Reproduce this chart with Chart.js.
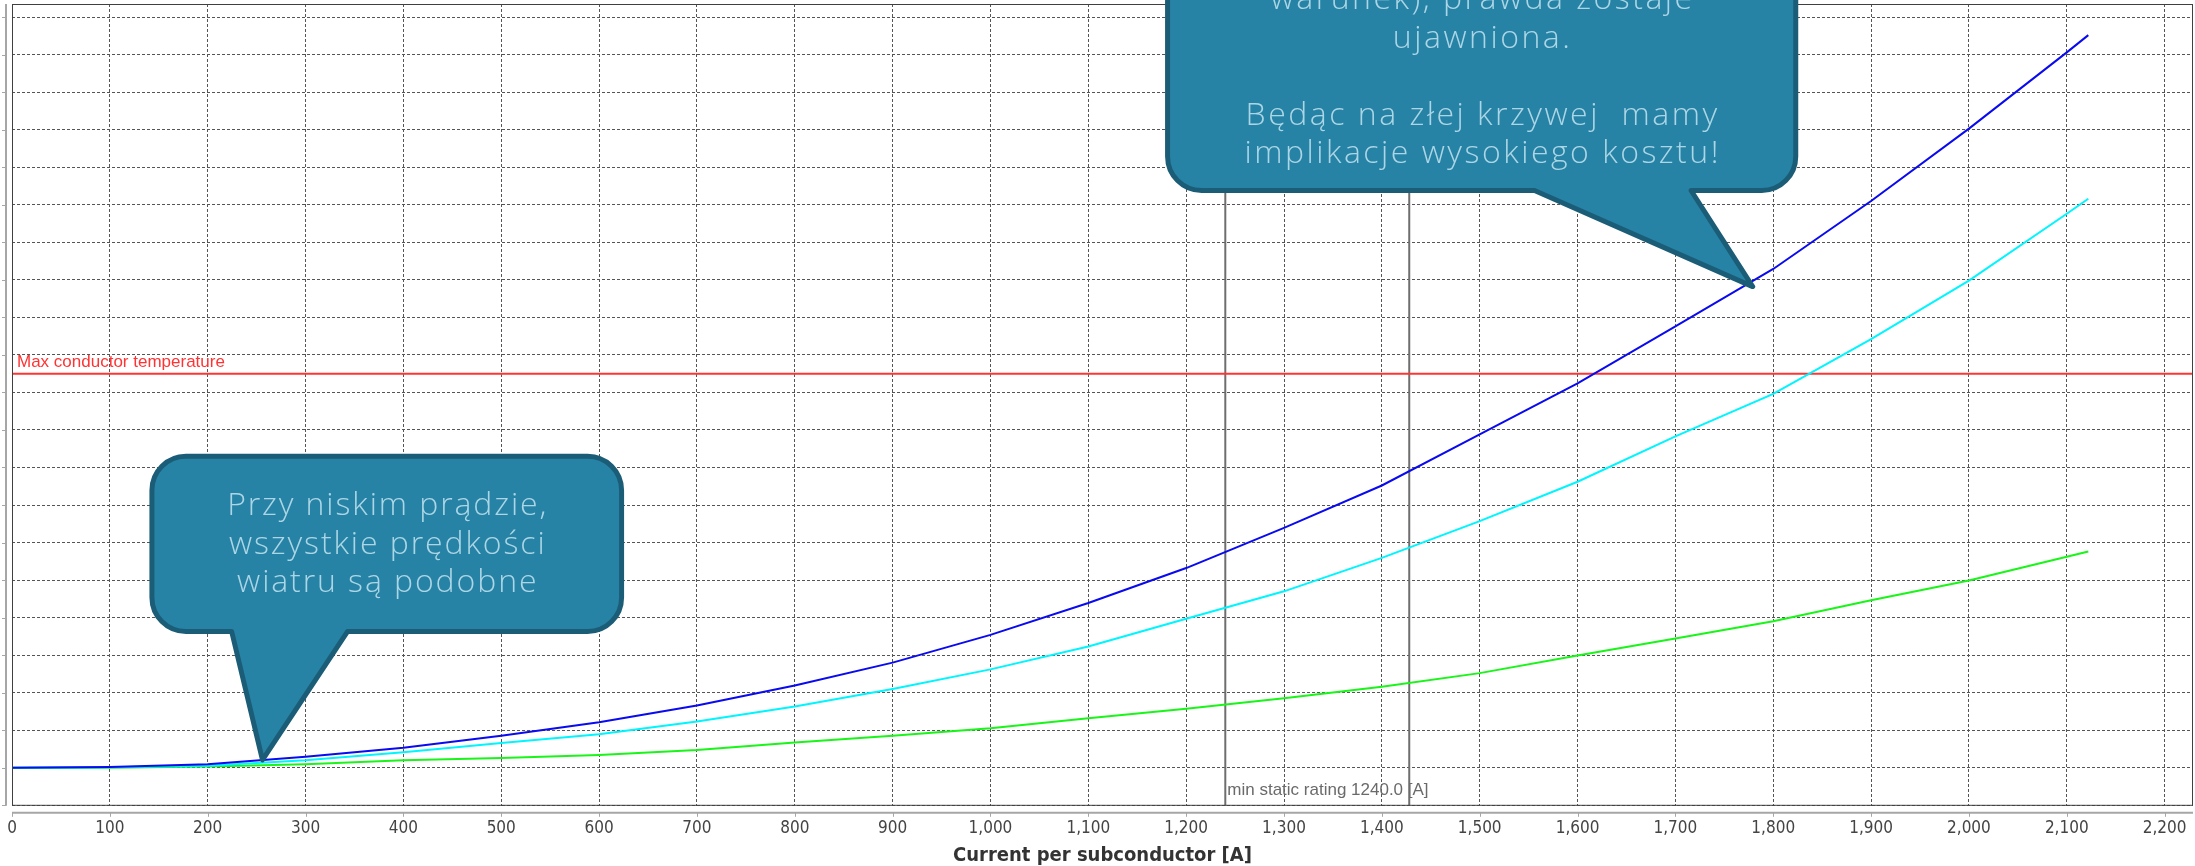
<!DOCTYPE html>
<html>
<head>
<meta charset="utf-8">
<title>Current per subconductor</title>
<script src="https://cdn.jsdelivr.net/npm/chart.js@4.4.1/dist/chart.umd.min.js"></script>
<style>
  html, body { margin: 0; padding: 0; background: #ffffff; }
  #wrap { width: 2195px; height: 866px; }
</style>
</head>
<body>
<div id="wrap"><canvas id="myChart" width="2195" height="866"></canvas></div>
<script>
// prąd na subprzewodnik [A]
const currents = [0, 100, 200, 300, 400, 500, 600, 700, 800, 900, 1000, 1100,
                  1200, 1300, 1400, 1500, 1600, 1700, 1800, 1900, 2000, 2100, 2122];

// przyrost temperatury przewodu dla trzech prędkości wiatru (jednostki siatki)
const tempLowWind  = [0, 0.2, 0.9, 2.9, 5.3, 8.5, 12.1, 16.6, 21.9, 28.0, 35.4, 43.9,
                      53.2, 63.9, 75.2, 88.8, 102.4, 117.6, 132.9, 151.0, 170.3, 190.6, 195.2];
const tempMidWind  = [0, 0.1, 0.5, 2.0, 4.1, 6.6, 8.9, 12.3, 16.3, 21.0, 26.2, 32.3,
                      39.7, 47.0, 55.9, 65.7, 76.2, 88.3, 99.6, 114.2, 129.8, 147.6, 151.6];
const tempHighWind = [0, 0, 0.3, 0.9, 2.0, 2.6, 3.4, 4.7, 6.7, 8.5, 10.5, 13.2,
                      15.7, 18.5, 21.6, 25.2, 29.9, 34.4, 39.0, 44.6, 49.9, 56.2, 57.6];

const maxConductorTemp = 105;
const staticRatings = [1240, 1428];

const xRange = [0, 2229];
const yRange = [-10.15, 203.5];

const toPoints = (vals) => vals.map((v, i) => ({ x: currents[i], y: v }));

// dymki z komentarzem (kotwiczone w jednostkach osi)
const callouts = [
  {
    lines: ['Przy niskim prądzie,', 'wszystkie prędkości', 'wiatru są podobne'],
    box: { x0: 143, x1: 623, yTop: 83.0, yBottom: 36.3 },
    base: [224.5, 343], tip: [256, 2.1], textMid: 59.5, spacing: '1.9px'
  },
  {
    lines: ['warunek), prawda zostaje', 'ujawniona.', '', 'Będąc na złej krzywej  mamy', 'implikacje wysokiego kosztu!'],
    box: { x0: 1181, x1: 1823, yTop: 230, yBottom: 153.8 },
    base: [1556, 1716], tip: [1779, 128.2], textMid: 184.0, spacing: '2.5px'
  }
];

function drawCallout(ctx, xs, ys, c) {
  const l = xs.getPixelForValue(c.box.x0), r = xs.getPixelForValue(c.box.x1);
  const t = ys.getPixelForValue(c.box.yTop), b = ys.getPixelForValue(c.box.yBottom);
  const bl = xs.getPixelForValue(c.base[0]), br = xs.getPixelForValue(c.base[1]);
  const tx = xs.getPixelForValue(c.tip[0]), ty = ys.getPixelForValue(c.tip[1]);
  const rad = 34;

  ctx.save();
  ctx.beginPath();
  ctx.moveTo(l + rad, t);
  ctx.lineTo(r - rad, t);
  ctx.arcTo(r, t, r, t + rad, rad);
  ctx.lineTo(r, b - rad);
  ctx.arcTo(r, b, r - rad, b, rad);
  ctx.lineTo(br, b);
  ctx.lineTo(tx, ty);
  ctx.lineTo(bl, b);
  ctx.lineTo(l + rad, b);
  ctx.arcTo(l, b, l, b - rad, rad);
  ctx.lineTo(l, t + rad);
  ctx.arcTo(l, t, l + rad, t, rad);
  ctx.closePath();
  ctx.fillStyle = '#2783a6';
  ctx.fill();
  ctx.lineWidth = 5;
  ctx.lineJoin = 'round';
  ctx.strokeStyle = '#1b5d77';
  ctx.stroke();

  ctx.fillStyle = '#acd6e5';
  ctx.font = '300 32px "Open Sans", Lato, sans-serif';
  ctx.letterSpacing = c.spacing;
  ctx.textAlign = 'center';
  ctx.textBaseline = 'middle';
  const lh = 38.5;
  const mid = ys.getPixelForValue(c.textMid);
  const cx = (l + r) / 2 + 1;
  c.lines.forEach((txt, i) => {
    ctx.fillText(txt, cx, mid + (i - (c.lines.length - 1) / 2) * lh);
  });
  ctx.restore();
}

const decorPlugin = {
  id: 'decor',
  afterDatasetsDraw(chart) {
    const { ctx, chartArea: a, scales } = chart;
    const xs = scales.x, ys = scales.y;
    ctx.save();

    // ramka obszaru wykresu
    ctx.strokeStyle = '#404040';
    ctx.lineWidth = 1;
    ctx.strokeRect(a.left + 0.5, a.top + 0.5, a.right - a.left - 1, a.bottom - a.top - 1);

    // odsunięte osie z kreskami
    ctx.strokeStyle = '#a6a6a6';
    ctx.lineWidth = 2;
    ctx.beginPath();
    ctx.moveTo(a.left - 6, a.top);
    ctx.lineTo(a.left - 6, a.bottom);
    ctx.moveTo(a.left, a.bottom + 7);
    ctx.lineTo(a.right, a.bottom + 7);
    ctx.stroke();
    ctx.lineWidth = 1;
    ctx.beginPath();
    ys.ticks.forEach(tk => {
      const py = Math.round(ys.getPixelForValue(tk.value)) + 0.5;
      ctx.moveTo(a.left - 10, py);
      ctx.lineTo(a.left - 6, py);
    });
    xs.ticks.forEach(tk => {
      const px = Math.round(xs.getPixelForValue(tk.value)) + 0.5;
      ctx.moveTo(px, a.bottom + 7);
      ctx.lineTo(px, a.bottom + 11);
    });
    ctx.stroke();

    // opisy linii
    ctx.font = '17px "Liberation Sans", Arial, sans-serif';
    ctx.textAlign = 'left';
    ctx.textBaseline = 'alphabetic';
    ctx.fillStyle = '#ff3333';
    ctx.fillText('Max conductor temperature', a.left + 5, ys.getPixelForValue(maxConductorTemp) - 7);
    ctx.fillStyle = '#6a6a6a';
    ctx.fillText('min static rating ' + staticRatings[0].toFixed(1) + ' [A]',
                 xs.getPixelForValue(staticRatings[0]) + 2, a.bottom - 11);
    ctx.restore();
  },
  afterDraw(chart) {
    const { ctx, scales } = chart;
    callouts.forEach(c => drawCallout(ctx, scales.x, scales.y, c));
  }
};

const ctx = document.getElementById('myChart').getContext('2d');

const lineStyle = { borderWidth: 2, pointRadius: 0, tension: 0, fill: false };

const myChart = new Chart(ctx, {
  type: 'line',
  data: {
    datasets: [
      { label: 'Wiatr słaby', data: toPoints(tempLowWind), borderColor: '#0a0af0', ...lineStyle },
      { label: 'Wiatr średni', data: toPoints(tempMidWind), borderColor: '#00f5ff', ...lineStyle },
      { label: 'Wiatr silny', data: toPoints(tempHighWind), borderColor: '#19f519', ...lineStyle },
      { label: 'Max conductor temperature',
        data: [{ x: xRange[0], y: maxConductorTemp }, { x: xRange[1], y: maxConductorTemp }],
        borderColor: '#ff3535', ...lineStyle },
      { label: 'min static rating',
        data: [{ x: staticRatings[0], y: yRange[0] }, { x: staticRatings[0], y: yRange[1] }],
        borderColor: '#6e6e6e', ...lineStyle },
      { label: 'static rating 2',
        data: [{ x: staticRatings[1], y: yRange[0] }, { x: staticRatings[1], y: yRange[1] }],
        borderColor: '#6e6e6e', ...lineStyle }
    ]
  },
  options: {
    responsive: false,
    animation: false,
    layout: { padding: { left: 12, right: 2, top: 4, bottom: -1.4 } },
    plugins: {
      legend: { display: false },
      tooltip: { enabled: false }
    },
    scales: {
      x: {
        type: 'linear',
        min: xRange[0],
        max: xRange[1],
        border: { display: false, dash: [3, 2] },
        grid: { color: '#555555', lineWidth: 1, drawTicks: true, tickLength: 12.8, tickColor: 'rgba(0,0,0,0)' },
        ticks: {
          stepSize: 100,
          includeBounds: false,
          autoSkip: false,
          maxRotation: 0,
          padding: 0,
          color: '#444444',
          font: { family: '"DejaVu Sans Condensed", "DejaVu Sans", sans-serif', size: 17 },
          callback: (v) => v.toLocaleString('en-US')
        },
        title: {
          display: true,
          text: 'Current per subconductor [A]',
          color: '#333333',
          padding: { top: 4.4, bottom: 0 },
          font: { family: '"DejaVu Sans Condensed", "DejaVu Sans", sans-serif', size: 20, weight: 'bold' }
        }
      },
      y: {
        type: 'linear',
        min: yRange[0],
        max: yRange[1],
        border: { display: false, dash: [3, 2] },
        grid: { color: '#555555', lineWidth: 1, drawTicks: false },
        ticks: { stepSize: 10, includeBounds: false, display: false }
      }
    }
  },
  plugins: [decorPlugin]
});
</script>
</body>
</html>
